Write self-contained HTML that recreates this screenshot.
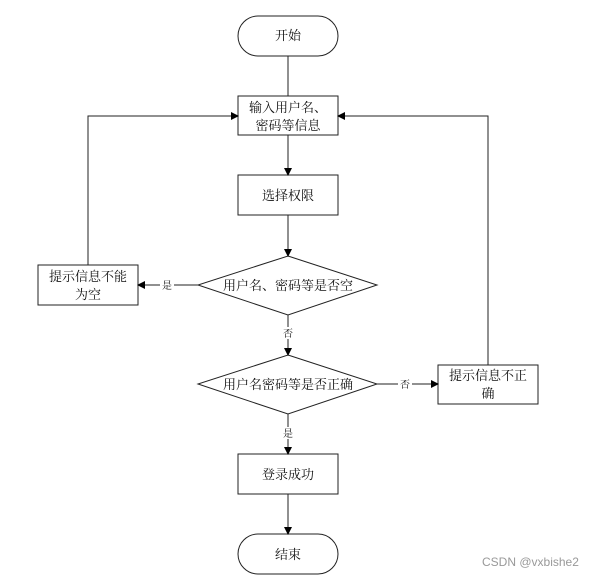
<!DOCTYPE html>
<html><head><meta charset="utf-8"><style>
html,body{margin:0;padding:0;background:#fff;width:601px;height:576px;overflow:hidden}
text{font-family:"Liberation Serif","Noto Serif CJK SC",serif;font-size:13px;fill:#111}
.s{font-size:10px}
</style></head><body>
<svg width="601" height="576" viewBox="0 0 601 576" xmlns="http://www.w3.org/2000/svg">
<defs><marker id="a" markerWidth="8" markerHeight="8" refX="7" refY="4" orient="auto" markerUnits="userSpaceOnUse"><path d="M0,0 L8,4 L0,8 z" fill="#000"/></marker></defs>
<g fill="none" stroke="#222" stroke-width="1">
<rect x="238" y="16" width="100" height="40" rx="20"/>
<rect x="238" y="96" width="100" height="39"/>
<rect x="238" y="175" width="100" height="40"/>
<polygon points="288,256 377,285 288,315 198,285"/>
<polygon points="288,355 377,384 288,414 198,384"/>
<rect x="38" y="265" width="100" height="40"/>
<rect x="438" y="365" width="100" height="39"/>
<rect x="238" y="454" width="100" height="40"/>
<rect x="238" y="534" width="100" height="40" rx="20"/>
<line x1="288" y1="56" x2="288" y2="96"/>
<line x1="288" y1="135" x2="288" y2="175" marker-end="url(#a)"/>
<line x1="288" y1="215" x2="288" y2="256" marker-end="url(#a)"/>
<line x1="198" y1="285" x2="138" y2="285" marker-end="url(#a)"/>
<polyline points="88,265 88,116 238,116" marker-end="url(#a)"/>
<line x1="288" y1="315" x2="288" y2="355" marker-end="url(#a)"/>
<line x1="377" y1="384" x2="438" y2="384" marker-end="url(#a)"/>
<polyline points="488,365 488,116 338,116" marker-end="url(#a)"/>
<line x1="288" y1="414" x2="288" y2="454" marker-end="url(#a)"/>
<line x1="288" y1="494" x2="288" y2="534" marker-end="url(#a)"/>
</g>
<g text-anchor="middle">
<text x="288" y="40">开始</text>
<text x="288" y="112">输入用户名、</text>
<text x="288" y="130">密码等信息</text>
<text x="288" y="200">选择权限</text>
<text x="288" y="290">用户名、密码等是否空</text>
<text x="288" y="389">用户名密码等是否正确</text>
<text x="88" y="281">提示信息不能</text>
<text x="88" y="299">为空</text>
<text x="488" y="380">提示信息不正</text>
<text x="488" y="398">确</text>
<text x="288" y="479">登录成功</text>
<text x="288" y="559">结束</text>
</g>
<g text-anchor="middle">
<rect x="160" y="279" width="14" height="12" fill="#fff"/><text class="s" x="167" y="289">是</text>
<rect x="281" y="327" width="14" height="12" fill="#fff"/><text class="s" x="288" y="337">否</text>
<rect x="398" y="378" width="14" height="12" fill="#fff"/><text class="s" x="405" y="388">否</text>
<rect x="281" y="427" width="14" height="12" fill="#fff"/><text class="s" x="288" y="437">是</text>
</g>
<text x="482" y="566" style="font-family:'Liberation Sans',sans-serif;font-size:12px;fill:#999">CSDN @vxbishe2</text>
</svg>
</body></html>
